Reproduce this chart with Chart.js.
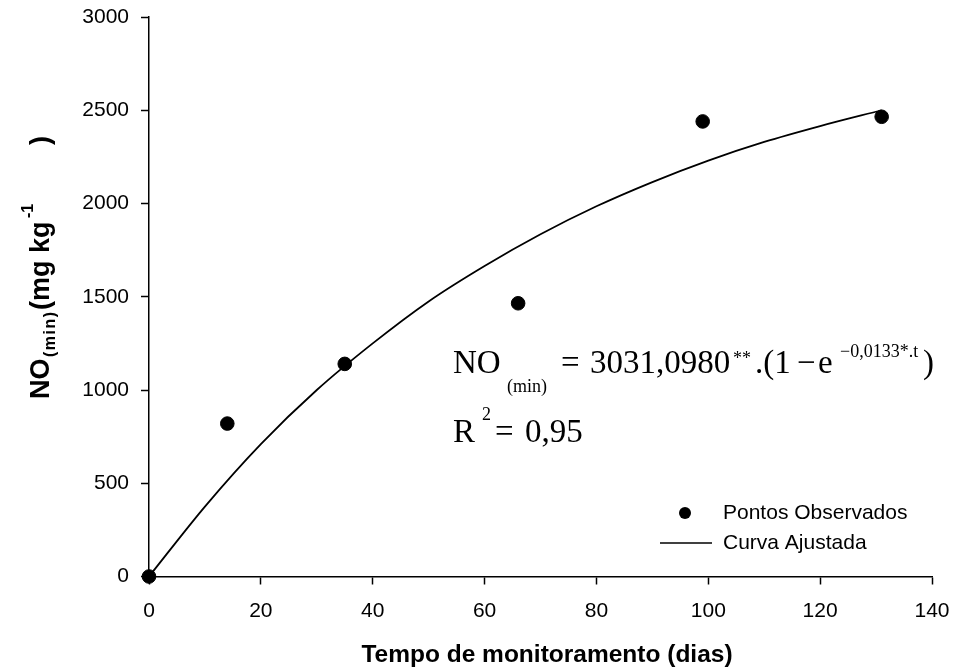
<!doctype html>
<html>

<head>
    <title>NO(min) x tempo</title>
    <script src="https://cdn.jsdelivr.net/npm/chart.js@4/dist/chart.umd.min.js"></script>
    <style>
        body { margin: 0; background: #fff; }
        #holder { width: 955px; height: 671px; }
    </style>
</head>

<body>
    <div id="holder">
        <canvas id="chart-area" width="955" height="671"></canvas>
    </div>
    <script>
    // pontos observados
    var diasObs = [0, 14, 35, 66, 99, 131];
    var noObs = [0, 820, 1140, 1465, 2440, 2465];

    // curva ajustada
    var diasCurva = [0, 10, 20, 30, 40, 50, 60, 70, 80, 90, 100, 110, 120, 131];
    var noCurva = [0, 375, 710, 1000, 1250, 1475, 1665, 1835, 1985, 2115, 2230, 2330, 2415, 2500];

    var xTicks = [0, 20, 40, 60, 80, 100, 120, 140];
    var yTicks = [0, 500, 1000, 1500, 2000, 2500, 3000];

    var sans = '"Liberation Sans", Arial, sans-serif';
    var serif = '"Liberation Serif", "Times New Roman", serif';

    var pts = diasObs.map(function(d, i) { return { x: d, y: noObs[i] }; });
    var curva = diasCurva.map(function(d, i) { return { x: d, y: noCurva[i] }; });

    // desenha textos extras (titulo y com sub/sobrescrito, equacao, legenda, titulo x)
    var extras = {
        id: 'extras',
        afterDraw: function(chart) {
            var ctx = chart.ctx;
            ctx.save();
            ctx.fillStyle = '#000';
            ctx.strokeStyle = '#000';
            ctx.textBaseline = 'alphabetic';
            ctx.textAlign = 'left';

            // titulo do eixo y
            ctx.save();
            ctx.translate(49, 399);
            ctx.rotate(-Math.PI / 2);
            ctx.font = 'bold 27px ' + sans;
            ctx.fillText('NO', 0, 0);
            ctx.font = 'bold 16px ' + sans;
            ctx.letterSpacing = '1.5px';
            ctx.fillText('(min)', 42, 6);
            ctx.letterSpacing = '0px';
            ctx.font = 'bold 27px ' + sans;
            ctx.fillText('(mg kg', 89, 0);
            ctx.font = 'bold 16px ' + sans;
            ctx.fillText('-1', 181, -16);
            ctx.font = 'bold 27px ' + sans;
            ctx.fillText(')', 254, 0);
            ctx.restore();

            // titulo do eixo x
            ctx.font = 'bold 24.5px ' + sans;
            ctx.textAlign = 'center';
            ctx.fillText('Tempo de monitoramento (dias)', 547, 662);
            ctx.textAlign = 'left';

            // equacao
            ctx.font = '33px ' + serif;
            ctx.fillText('NO', 453, 373);
            ctx.font = '18px ' + serif;
            ctx.fillText('(min)', 507, 392);
            ctx.font = '33px ' + serif;
            ctx.fillText('=', 561, 373);
            ctx.fillText('3031,0980', 590, 373);
            ctx.font = '18px ' + serif;
            ctx.fillText('**', 733, 364);
            ctx.font = '33px ' + serif;
            ctx.fillText('.(1', 755, 373);
            ctx.fillText('\u2212', 797, 373);
            ctx.fillText('e', 818, 373);
            ctx.font = '18px ' + serif;
            ctx.fillText('\u22120,0133*.t', 840, 357);
            ctx.font = '33px ' + serif;
            ctx.fillText(')', 923, 373);

            ctx.fillText('R', 453, 442);
            ctx.font = '18px ' + serif;
            ctx.fillText('2', 482, 420);
            ctx.font = '33px ' + serif;
            ctx.fillText('=', 495, 442);
            ctx.fillText('0,95', 525, 442);

            // legenda
            ctx.beginPath();
            ctx.arc(685, 513, 6, 0, Math.PI * 2);
            ctx.fill();
            ctx.lineWidth = 1.5;
            ctx.beginPath();
            ctx.moveTo(660, 543);
            ctx.lineTo(712, 543);
            ctx.stroke();
            ctx.font = '21px ' + sans;
            ctx.textBaseline = 'middle';
            ctx.fillText('Pontos Observados', 723, 513);
            ctx.fillText('Curva Ajustada', 723, 543);

            ctx.restore();
        }
    };

    var plainTick = function(value) {
        return String(value);
    };

    var config = {
        type: 'scatter',
        data: {
            datasets: [{
                label: 'Pontos Observados',
                data: pts,
                backgroundColor: '#000',
                borderColor: '#000',
                pointRadius: 6.8,
                pointHoverRadius: 6.8,
                clip: false,
                order: 1
            }, {
                label: 'Curva Ajustada',
                data: curva,
                showLine: true,
                borderColor: '#000',
                borderWidth: 1.8,
                pointRadius: 0,
                cubicInterpolationMode: 'monotone',
                fill: false,
                order: 2
            }]
        },
        options: {
            responsive: false,
            animation: false,
            events: [],
            layout: {
                padding: { left: 0, right: 23, top: 17, bottom: 0 }
            },
            plugins: {
                legend: { display: false },
                tooltip: { enabled: false }
            },
            scales: {
                x: {
                    type: 'linear',
                    min: 0,
                    max: 140,
                    afterBuildTicks: function(scale) {
                        scale.ticks = xTicks.map(function(v) { return { value: v }; });
                    },
                    afterFit: function(scale) {
                        scale.height = 94.5;
                        scale.paddingLeft = 0;
                        scale.paddingRight = 0;
                    },
                    grid: {
                        drawOnChartArea: false,
                        drawTicks: true,
                        tickLength: 8,
                        tickWidth: 1.5,
                        tickColor: '#000'
                    },
                    border: { display: true, color: '#000', width: 1.5 },
                    ticks: {
                        color: '#000',
                        padding: 14,
                        maxRotation: 0,
                        callback: plainTick,
                        font: { family: sans, size: 21 }
                    }
                },
                y: {
                    type: 'linear',
                    min: 0,
                    max: 3000,
                    afterBuildTicks: function(scale) {
                        scale.ticks = yTicks.map(function(v) { return { value: v }; });
                    },
                    afterFit: function(scale) {
                        scale.width = 149;
                        scale.paddingTop = 0;
                        scale.paddingBottom = 0;
                    },
                    grid: {
                        drawOnChartArea: false,
                        drawTicks: true,
                        tickLength: 8,
                        tickWidth: 1.5,
                        tickColor: '#000'
                    },
                    border: { display: true, color: '#000', width: 1.5 },
                    ticks: {
                        color: '#000',
                        padding: 12,
                        callback: plainTick,
                        font: { family: sans, size: 21 }
                    }
                }
            }
        },
        plugins: [extras]
    };

    window.onload = function() {
        var ctx = document.getElementById('chart-area').getContext('2d');
        window.myChart = new Chart(ctx, config);
    };
    </script>
</body>

</html>
